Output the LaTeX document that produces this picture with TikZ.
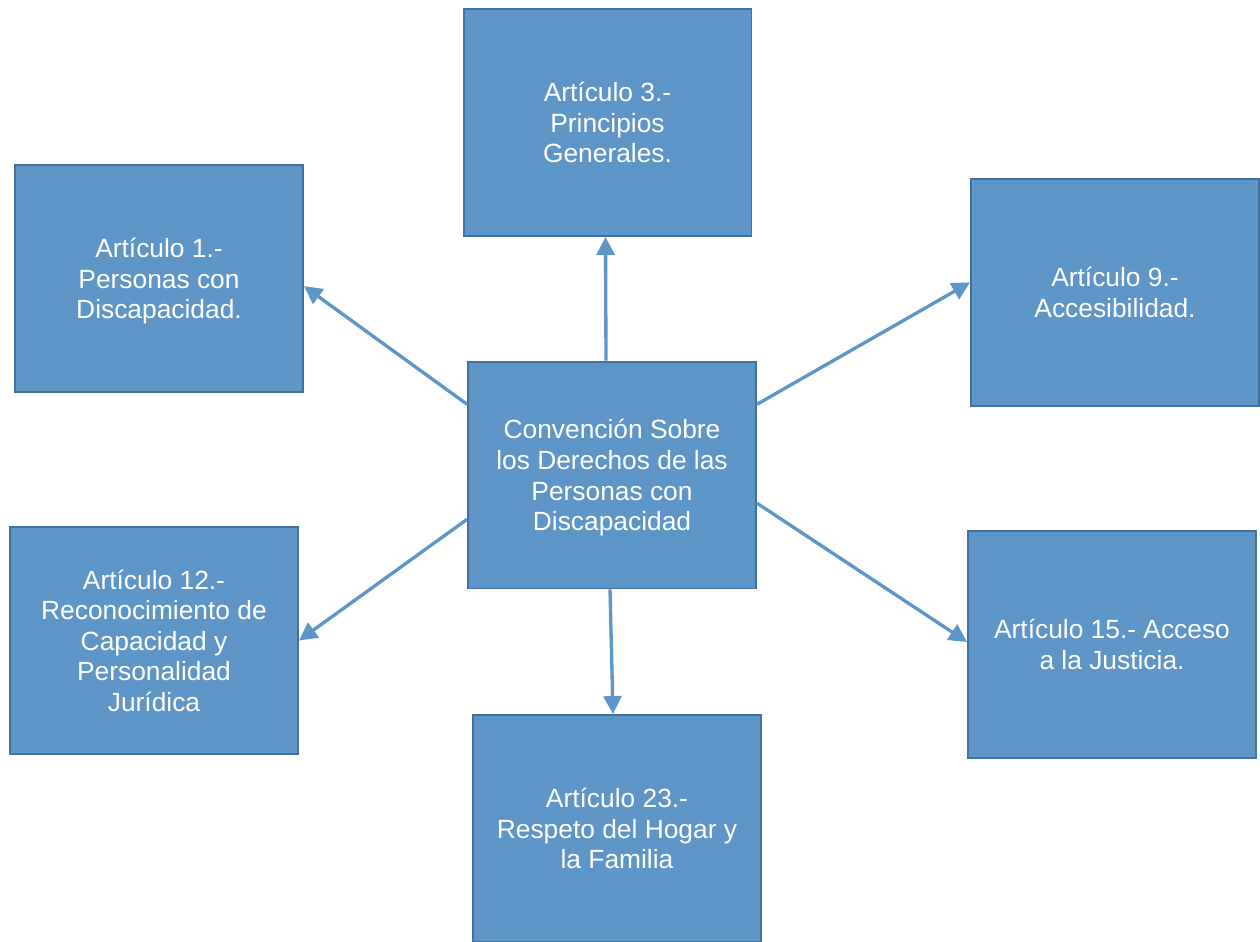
\documentclass[tikz,border=0pt]{standalone}
\usepackage{fontspec}
\setmainfont{Liberation Sans}
\usetikzlibrary{arrows.meta}

\definecolor{boxfill}{RGB}{95,150,200}
\definecolor{boxline}{RGB}{65,113,156}

\begin{document}
\begin{tikzpicture}[
    x=0.02cm, y=-0.02cm, % one unit = one pixel of the layout
    >={Triangle[length=3.6mm, width=3.6mm]},
    artbox/.style={rectangle, draw=boxline, fill=boxfill, line width=1.1pt,
        minimum width=5.76cm, minimum height=4.54cm, inner sep=0pt,
        align=center, text=white, text depth=-3pt,
        font=\fontsize{15}{17.4}\selectfont}, % article boxes
    link/.style={->, draw=boxfill, line width=1.9pt} % connectors
]

    % === Frame ===
    \useasboundingbox (0,0) rectangle (1260,941);

    % === Boxes ===
    \node[artbox] (conv) at (612,475) {Convención Sobre\\los Derechos de las\\Personas con\\Discapacidad};

    \node[artbox] (art3) at (607.5,122.5) {Artículo 3.-\\Principios\\Generales.};
    \node[artbox] (art1) at (159,278.5) {Artículo 1.-\\Personas con\\Discapacidad.};
    \node[artbox] (art9) at (1115,292.5) {Artículo 9.-\\Accesibilidad.};
    \node[artbox] (art12) at (154,640.5) {Artículo 12.-\\Reconocimiento de\\Capacidad y\\Personalidad\\Jurídica};
    \node[artbox] (art15) at (1112,644.5) {Artículo 15.- Acceso\\a la Justicia.};
    \node[artbox] (art23) at (617,828.5) {Artículo 23.-\\Respeto del Hogar y\\la Familia};

    % === Connectors ===
    \draw[link] (conv.93) -- (art3.269);
    \draw[link] (conv.154) -- (art1.357);
    \draw[link] (conv.26) -- (art9.176);
    \draw[link] (conv.197) -- (art12.east);
    \draw[link] (conv.349) -- (art15.179);
    \draw[link] (conv.269) -- (art23.92);

\end{tikzpicture}
\end{document}
